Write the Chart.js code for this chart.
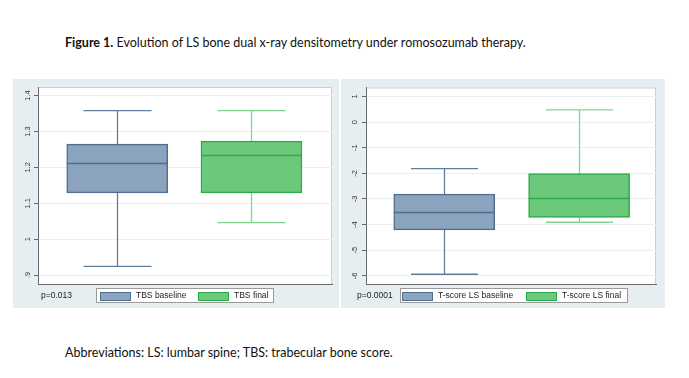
<!DOCTYPE html>
<html><head><meta charset="utf-8">
<script src="https://cdn.jsdelivr.net/npm/chart.js@4.4.0/dist/chart.umd.min.js"></script>
<style>
html,body{margin:0;padding:0;background:#fff;}
body{width:689px;height:378px;position:relative;overflow:hidden;font-family:Lato,"Open Sans",sans-serif;}
.panel{position:absolute;background:#e7eef1;}
.txt{position:absolute;white-space:nowrap;color:#111;font-size:12.5px;font-family:Lato,sans-serif;}
.legend{position:absolute;background:#fff;border:1px solid #9a9a9a;height:15px;box-sizing:border-box;}
.sw{position:absolute;top:3px;width:31px;height:9px;box-sizing:border-box;border:1.5px solid;}
.lt{position:absolute;top:1px;font:8.5px "Liberation Sans",Arial,sans-serif;color:#222;}
.pv{position:absolute;font:8.5px "Liberation Sans",Arial,sans-serif;color:#222;}
</style></head>
<body>
<div class="txt" style="left:65px;top:35px;"><b>Figure 1.</b> Evolution of LS bone dual x-ray densitometry under romosozumab therapy.</div>
<div class="txt" style="left:65px;top:345px;">Abbreviations: LS: lumbar spine; TBS: trabecular bone score.</div>
<div class="panel" style="left:13px;top:79px;width:326px;height:229px;"><canvas id="c1" width="326" height="229"></canvas></div>
<div class="panel" style="left:341px;top:79px;width:324px;height:229px;"><canvas id="c2" width="324" height="229"></canvas></div>
<div id="leg1"></div><div id="leg2"></div>
<script>
// ---- data ----
const groups = ['baseline', 'final'];
const tbsNames = ['TBS baseline', 'TBS final'];
const tbsMin = [0.924, 1.046];
const tbsQ1 = [1.129, 1.129];
const tbsMedian = [1.211, 1.234];
const tbsQ3 = [1.265, 1.273];
const tbsMax = [1.358, 1.358];
const tbsTicks = [0.9, 1.0, 1.1, 1.2, 1.3, 1.4];
const tbsTickLabels = ['.9', '1', '1.1', '1.2', '1.3', '1.4'];
const tbsP = 'p=0.013';

const tsNames = ['T-score LS baseline', 'T-score LS final'];
const tsMin = [-5.94, -3.91];
const tsQ1 = [-4.21, -3.72];
const tsMedian = [-3.51, -2.97];
const tsQ3 = [-2.81, -2.01];
const tsMax = [-1.82, 0.48];
const tsTicks = [-6, -5, -4, -3, -2, -1, 0, 1];
const tsTickLabels = ['-6', '-5', '-4', '-3', '-2', '-1', '0', '1'];
const tsP = 'p=0.0001';

// ---- styles ----
const fills = ['#8ba3bc', '#6cc97b'];
const borders = ['#4f6f92', '#2aab4a'];
const whiskers = ['#5e7e9d', '#84d48f'];

const whiskerPlugin = {
  id: 'whiskers',
  beforeDraw(chart) {
    const {ctx, chartArea: a} = chart;
    ctx.save();
    ctx.fillStyle = '#ffffff';
    ctx.fillRect(a.left, a.top, a.right - a.left, a.bottom - a.top);
    ctx.strokeStyle = '#c9cfd2'; ctx.lineWidth = 1;
    ctx.strokeRect(a.left + 0.5, a.top + 0.5, a.right - a.left - 1, a.bottom - a.top);
    ctx.restore();
  },
  beforeDatasetsDraw(chart) {
    const {ctx, scales: {x, y}} = chart;
    ctx.save();
    const st = chart.options.plugins.whiskers;
    st.sets.forEach((s, i) => {
      const cx = Math.round(x.getPixelForValue(i)) + 0.5;
      const half = st.cap / 2;
      ctx.strokeStyle = whiskers[i]; ctx.lineWidth = 1.3;
      ctx.beginPath();
      ctx.moveTo(cx, y.getPixelForValue(s.max)); ctx.lineTo(cx, y.getPixelForValue(s.q3));
      ctx.moveTo(cx, y.getPixelForValue(s.q1)); ctx.lineTo(cx, y.getPixelForValue(s.min));
      ctx.moveTo(cx - half, y.getPixelForValue(s.max)); ctx.lineTo(cx + half, y.getPixelForValue(s.max));
      ctx.moveTo(cx - half, y.getPixelForValue(s.min)); ctx.lineTo(cx + half, y.getPixelForValue(s.min));
      ctx.stroke();
    });
    ctx.restore();
  },
  afterDatasetsDraw(chart) {
    const {ctx, scales: {x, y}} = chart;
    const st = chart.options.plugins.whiskers;
    ctx.save();
    st.sets.forEach((s, i) => {
      const cx = x.getPixelForValue(i);
      const half = st.box / 2;
      const py = Math.round(y.getPixelForValue(s.med)) + 0.5;
      ctx.strokeStyle = borders[i]; ctx.lineWidth = 1.6;
      ctx.beginPath(); ctx.moveTo(cx - half, py); ctx.lineTo(cx + half, py); ctx.stroke();
    });
    ctx.restore();
  }
};

function makeChart(id, names, mins, q1, med, q3, maxs, ticks, labels, yMin, yMax, xMin, xMax, axisW, pad, padR, boxW, capW, tickPad) {
  const datasets = names.map((n, i) => ({
    label: n,
    data: [{x: i, y: [q1[i], q3[i]]}],
    backgroundColor: fills[i],
    borderColor: borders[i],
    borderWidth: 1.5,
    borderSkipped: false,
    barThickness: boxW,
    grouped: false
  }));
  const sets = names.map((n, i) => ({min: mins[i], q1: q1[i], med: med[i], q3: q3[i], max: maxs[i]}));
  return new Chart(document.getElementById(id), {
    type: 'bar',
    data: {datasets},
    plugins: [whiskerPlugin],
    options: {
      responsive: false, animation: false,
      layout: {padding: {top: pad.top, right: padR, bottom: pad.bottom, left: 0}},
      plugins: {legend: {display: false}, tooltip: {enabled: false}, whiskers: {sets, box: boxW, cap: capW}},
      scales: {
        x: {type: 'linear', min: xMin, max: xMax, offset: false, display: true,
            ticks: {display: false}, grid: {display: false, drawTicks: false, offset: false},
            border: {display: true, color: '#6a6a6a', width: 1}},
        y: {type: 'linear', min: yMin, max: yMax,
            afterBuildTicks: s => { s.ticks = ticks.map(v => ({value: v})); },
            afterFit: s => { s.width = axisW; },
            ticks: {minRotation: 90, maxRotation: 90, crossAlign: 'center', padding: tickPad,
                    font: {size: 7.5, family: '"Liberation Sans", Arial, sans-serif'}, color: '#333',
                    callback: (v, i) => labels[i]},
            grid: {color: '#eaf0f2', lineWidth: 1, tickColor: '#666', tickLength: 4, drawTicks: true},
            border: {display: true, color: '#6a6a6a', width: 1}}
      }
    }
  });
}

makeChart('c1', tbsNames, tbsMin, tbsQ1, tbsMedian, tbsQ3, tbsMax, tbsTicks, tbsTickLabels,
  0.875, 1.424, -0.59, 1.6, 25, {top: 8, bottom: 24}, 7, 101, 68, 1);
makeChart('c2', tsNames, tsMin, tsQ1, tsMedian, tsQ3, tsMax, tsTicks, tsTickLabels,
  -6.32, 1.35, -0.58, 1.57, 25, {top: 8, bottom: 24}, 9, 101, 67, 4);

function legend(el, names, p, pvx, box, sws, txs) {
  const host = document.getElementById(el);
  const pv = document.createElement('div');
  pv.className = 'pv'; pv.textContent = p; pv.style.left = pvx + 'px'; pv.style.top = '290px';
  host.appendChild(pv);
  const lg = document.createElement('div');
  lg.className = 'legend'; lg.style.left = box[0] + 'px'; lg.style.top = '288px'; lg.style.width = (box[1] - box[0]) + 'px';
  names.forEach((n, i) => {
    const sw = document.createElement('div');
    sw.className = 'sw'; sw.style.left = (sws[i] - box[0] - 1) + 'px';
    sw.style.background = fills[i]; sw.style.borderColor = borders[i];
    lg.appendChild(sw);
    const t = document.createElement('div');
    t.className = 'lt'; t.textContent = n; t.style.left = (txs[i] - box[0] - 1) + 'px';
    lg.appendChild(t);
  });
  host.appendChild(lg);
}
legend('leg1', tbsNames, tbsP, 41, [96, 274], [100, 198], [136, 234]);
legend('leg2', tsNames, tsP, 357, [400, 628], [402, 526], [438, 562]);
</script>
</body></html>
